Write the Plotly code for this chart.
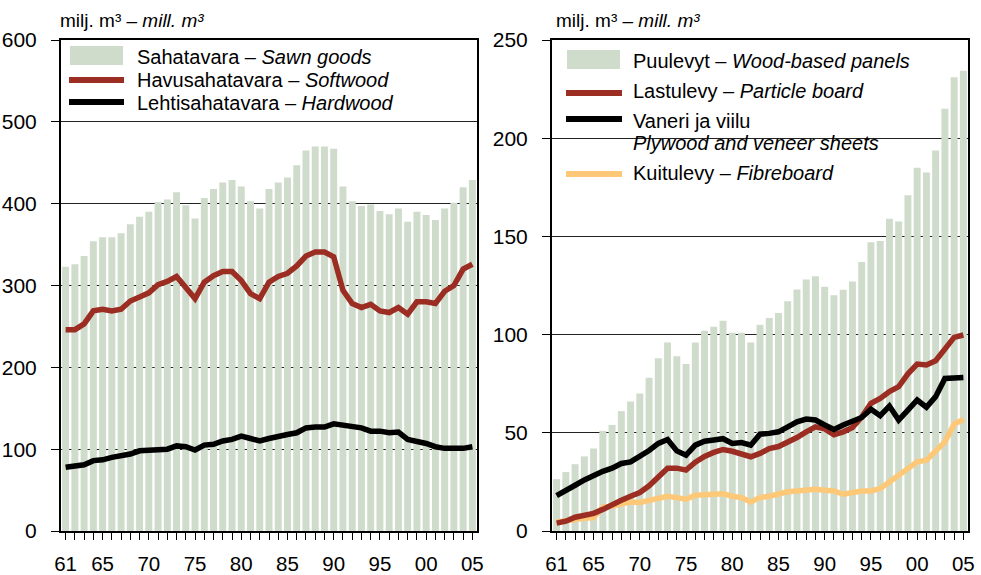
import plotly.graph_objects as go

years = list(range(1961, 2006))
year_labels = ["61", "65", "70", "75", "80", "85", "90", "95", "00", "05"]
year_label_vals = [1961, 1965, 1970, 1975, 1980, 1985, 1990, 1995, 2000, 2005]

# Left panel: sawn goods (mill. m3)
sawn_goods = [323, 326, 336, 354, 359, 359, 364, 375, 384, 390,
               402, 405, 414, 398, 382, 407, 418, 426, 429, 421,
               403, 394, 418, 426, 432, 447, 465, 470, 470, 467,
               421, 403, 397, 399, 391, 387, 394, 378, 390, 386,
               380, 394, 401, 420, 429]
softwood = [246, 246, 253, 269, 271, 269, 271, 281, 286, 291,
            301, 305, 311, 298, 284, 304, 312, 317, 317, 306,
            290, 284, 304, 311, 315, 324, 336, 341, 341, 335,
            294, 278, 273, 277, 269, 267, 273, 265, 280, 280,
            278, 293, 300, 320, 326]
hardwood = [78, 79, 81, 86, 87, 90, 92, 94, 98, 99,
            100, 100, 104, 103, 99, 105, 106, 110, 112, 116,
            113, 110, 113, 116, 118, 120, 126, 127, 127, 131,
            129, 128, 126, 122, 122, 120, 121, 112, 110, 107,
            103, 101, 101, 101, 103]

# Right panel: wood-based panels (mill. m3)
panels = [26.4, 30, 34, 38, 42, 51, 54, 61, 66, 70,
          78, 88, 96, 89, 85, 96, 102, 104, 107, 101,
          101, 96, 105, 108.5, 111, 117, 123, 128, 129.7, 124.3,
          120, 122.8, 127, 137, 147, 147.6, 159, 157.6, 171, 185,
          182.5, 193.7, 215, 231, 234.4]
particle = [4, 5, 7, 8, 9, 11, 13.6, 15.6, 17.7, 19.6,
            23, 27.5, 32, 32, 31, 35, 38, 40, 41.5, 40.6,
            39.5, 37.8, 39.5, 42, 43, 45, 47.6, 50.5, 53, 52,
            49, 50.5, 52.7, 58, 65, 67.5, 71, 73.5, 80, 85,
            84.5, 86.7, 92.5, 98.6, 99.8]
plywood = [18, 20.4, 23.3, 26, 28.4, 30.4, 32, 34.4, 35.2, 37.8,
           41, 44.6, 46.6, 40.8, 38.6, 43.7, 45.7, 46.3, 47, 44.6,
           45, 43.7, 49.3, 49.7, 50.5, 53, 55.6, 57, 56.5, 54,
           51.7, 54, 55.6, 57.8, 62, 58.7, 63.6, 56.5, 61.6, 66.7,
           63, 68.4, 77.7, 78, 78.2]
fibre = [4.6, 5.4, 6, 6.5, 6.8, 12.2, 12.6, 14, 14.8, 14.5,
         15.6, 17, 17.7, 17, 16.2, 18.2, 18.5, 18.5, 19, 17.7,
         17, 14.8, 17, 17.7, 19, 20, 20.4, 20.7, 21.3, 20.7,
         20.4, 18.7, 19.6, 20.4, 20.4, 21.6, 25, 28.4, 31.8, 35.2,
         36, 40.3, 45.4, 54.4, 56.8]

BAR = "#cfdbcb"
RED = "#9b2d23"
BLACK = "#000000"
YELLOW = "#fdc878"

W, H = 981, 575
FONT = "Liberation Sans, Arial, sans-serif"

def px(x):
    return x / W

def py(y):
    return 1 - y / H

fig = go.Figure()
fig.add_trace(go.Bar(x=years, y=sawn_goods, marker_color=BAR, marker_line_width=0,
                     xaxis="x", yaxis="y", showlegend=False))
fig.add_trace(go.Scatter(x=years, y=softwood, mode="lines", line=dict(color=RED, width=5.5),
                         xaxis="x", yaxis="y", showlegend=False))
fig.add_trace(go.Scatter(x=years, y=hardwood, mode="lines", line=dict(color=BLACK, width=5.5),
                         xaxis="x", yaxis="y", showlegend=False))

fig.add_trace(go.Bar(x=years, y=panels, marker_color=BAR, marker_line_width=0,
                     xaxis="x2", yaxis="y2", showlegend=False))
fig.add_trace(go.Scatter(x=years, y=fibre, mode="lines", line=dict(color=YELLOW, width=5.5),
                         xaxis="x2", yaxis="y2", showlegend=False))
fig.add_trace(go.Scatter(x=years, y=particle, mode="lines", line=dict(color=RED, width=5.5),
                         xaxis="x2", yaxis="y2", showlegend=False))
fig.add_trace(go.Scatter(x=years, y=plywood, mode="lines", line=dict(color=BLACK, width=5.5),
                         xaxis="x2", yaxis="y2", showlegend=False))

xcommon = dict(range=[1960.5, 2005.5], tickmode="array", tickvals=years,
               ticktext=[(str(y)[2:] if y in year_label_vals else "") for y in years],
               ticks="outside", ticklen=7, tickwidth=1.3, tickcolor="black",
               showline=True, linewidth=2, linecolor="black", mirror=True,
               showgrid=False, zeroline=False, ticklabelstandoff=6, automargin=False,
               tickfont=dict(family=FONT, size=20.5, color="black"))
ycommon = dict(ticks="outside", ticklen=8, tickwidth=1.3, tickcolor="black",
               showline=True, linewidth=2, linecolor="black", mirror=True,
               showgrid=True, gridcolor="#222222", gridwidth=1, zeroline=False,
               ticklabelstandoff=10, automargin=False,
               tickfont=dict(family=FONT, size=21, color="black"))

ytop, ybot = py(40), py(531)
fig.update_layout(
    width=W, height=H,
    margin=dict(l=0, r=0, t=0, b=0),
    paper_bgcolor="white", plot_bgcolor="white",
    bargap=0.25, showlegend=False,
    xaxis=dict(domain=[px(61), px(477)], anchor="y", **xcommon),
    yaxis=dict(domain=[ybot, ytop], anchor="x", range=[0, 600], dtick=100, **ycommon),
    xaxis2=dict(domain=[px(552), px(968)], anchor="y2", **xcommon),
    yaxis2=dict(domain=[ybot, ytop], anchor="x2", range=[0, 250], dtick=50, **ycommon),
)

shapes = []
annotations = []

# unit titles
for x0 in (58, 554):
    annotations.append(dict(xref="paper", yref="paper", x=px(x0), y=py(20),
                            xanchor="left", yanchor="middle", showarrow=False,
                            text="milj. m³ – <i>mill. m³</i>",
                            font=dict(family=FONT, size=19, color="black")))

# white box behind right legend (covers gridline)
shapes.append(dict(type="rect", xref="paper", yref="paper", layer="between",
                   x0=px(553), x1=px(897), y0=py(42), y1=py(200),
                   fillcolor="white", line=dict(width=0)))

# left legend
shapes.append(dict(type="rect", xref="paper", yref="paper",
                   x0=px(70), x1=px(123), y0=py(65), y1=py(46),
                   fillcolor=BAR, line=dict(width=0)))
for yy, col in ((80, RED), (102, BLACK)):
    shapes.append(dict(type="line", xref="paper", yref="paper",
                       x0=px(69), x1=px(124), y0=py(yy), y1=py(yy),
                       line=dict(color=col, width=6)))
for yy, txt in ((57, "Sahatavara – <i>Sawn goods</i>"),
                (80, "Havusahatavara – <i>Softwood</i>"),
                (103, "Lehtisahatavara – <i>Hardwood</i>")):
    annotations.append(dict(xref="paper", yref="paper", x=px(135), y=py(yy),
                            xanchor="left", yanchor="middle", showarrow=False, text=txt,
                            font=dict(family=FONT, size=20, color="black")))

# right legend
shapes.append(dict(type="rect", xref="paper", yref="paper",
                   x0=px(567), x1=px(620), y0=py(69), y1=py(50),
                   fillcolor=BAR, line=dict(width=0)))
for yy, col in ((93, RED), (119, BLACK), (174, YELLOW)):
    shapes.append(dict(type="line", xref="paper", yref="paper",
                       x0=px(566), x1=px(622), y0=py(yy), y1=py(yy),
                       line=dict(color=col, width=6)))
for yy, txt in ((61, "Puulevyt – <i>Wood-based panels</i>"),
                (91, "Lastulevy – <i>Particle board</i>"),
                (121, "Vaneri ja viilu"),
                (143, "<i>Plywood and veneer sheets</i>"),
                (173, "Kuitulevy – <i>Fibreboard</i>")):
    annotations.append(dict(xref="paper", yref="paper", x=px(631), y=py(yy),
                            xanchor="left", yanchor="middle", showarrow=False, text=txt,
                            font=dict(family=FONT, size=20, color="black")))

fig.update_layout(shapes=shapes, annotations=annotations)
fig.write_html("out.html", config={"displayModeBar": False},
               post_script="document.body.style.margin='0';document.body.style.padding='0';")
